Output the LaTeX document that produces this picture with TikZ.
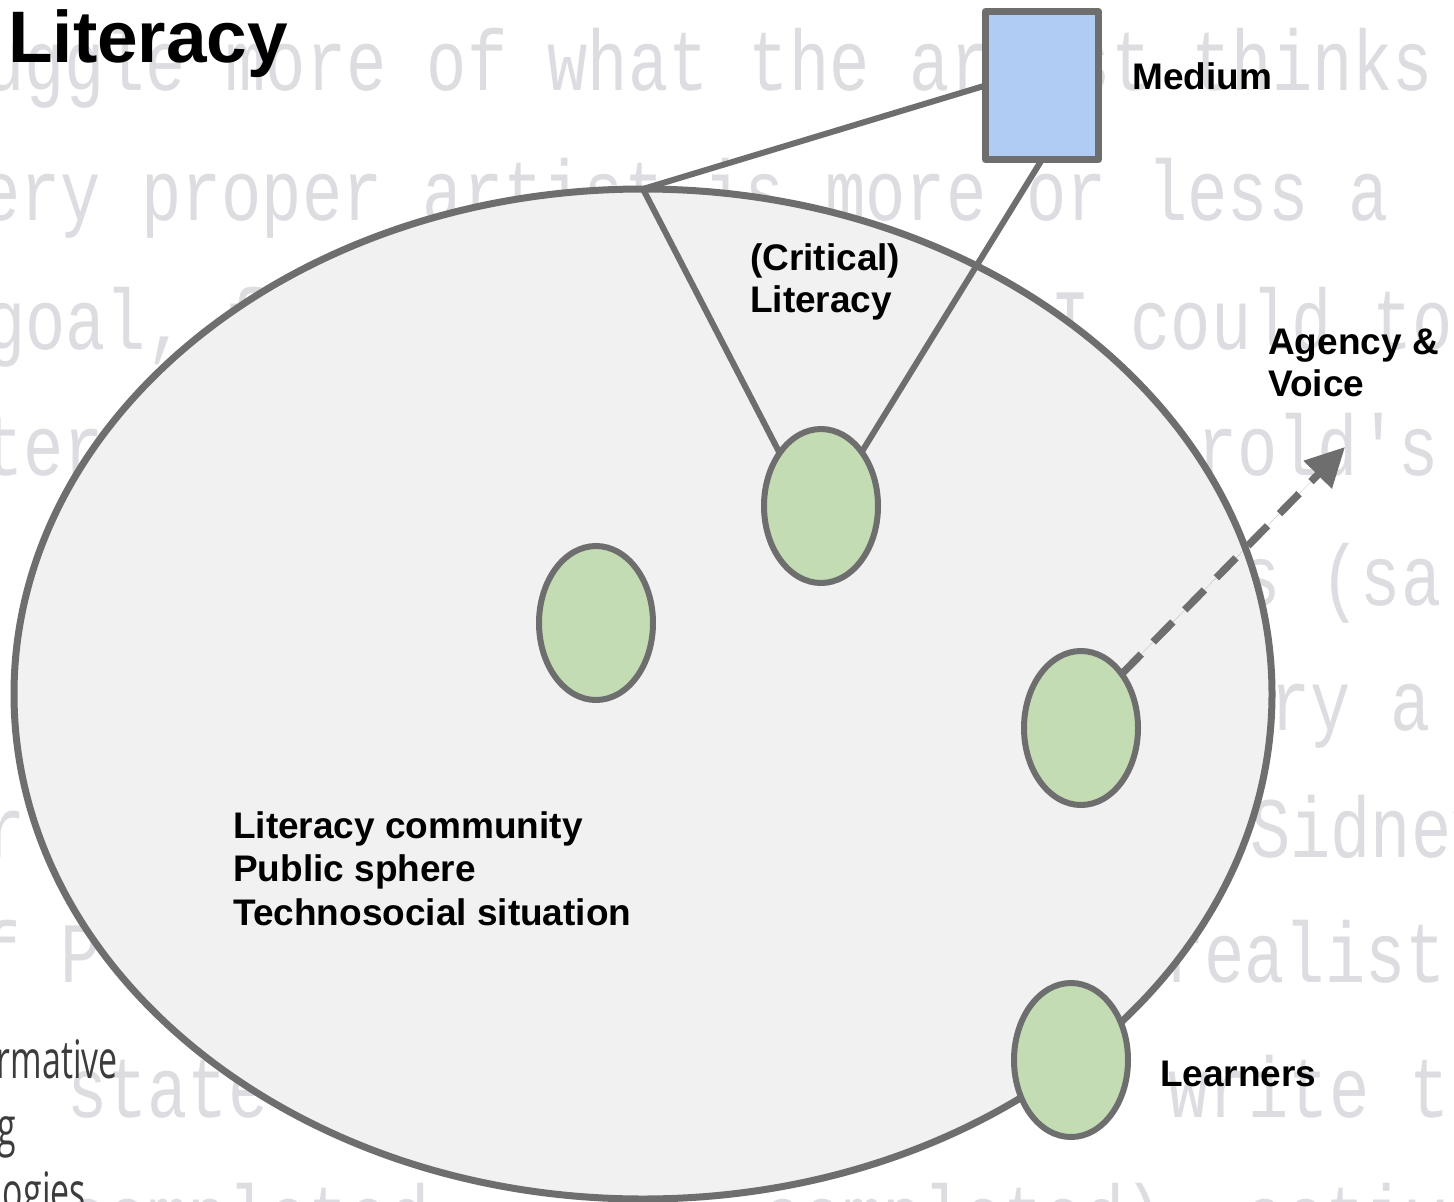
\documentclass[tikz,border=0pt]{standalone}
\usepackage{fontspec}
\setmainfont{Liberation Sans}
\newfontfamily\bgmono[FakeStretch=0.78]{Liberation Mono}
\newfontfamily\condsans[FakeStretch=0.64]{Open Sans}
\usetikzlibrary{shapes.geometric,arrows.meta}
\definecolor{edgegray}{RGB}{110,110,110}
\definecolor{bigfill}{RGB}{241,241,241}
\definecolor{greenfill}{RGB}{196,220,180}
\definecolor{bluefill}{RGB}{176,204,244}
\definecolor{bgtextcol}{RGB}{220,220,225}
\definecolor{darktextcol}{RGB}{60,60,60}
\tikzset{
  bgtext/.style={anchor=base west, inner sep=0, text=bgtextcol, font=\bgmono\fontsize{86}{100}\selectfont},
  darktext/.style={anchor=base east, inner sep=0, text=darktextcol, font=\condsans\fontsize{53}{60}\selectfont},
  bigell/.style={draw=edgegray, fill=bigfill, ellipse, line width=7pt, inner sep=0, outer sep=0, minimum width=1258pt, minimum height=1010pt},
  smallell/.style={draw=edgegray, fill=greenfill, ellipse, line width=6pt, inner sep=0, outer sep=0, minimum width=114pt, minimum height=154pt},
  mediumbox/.style={draw=edgegray, fill=bluefill, rectangle, line width=7pt, line join=round, inner sep=0, outer sep=0, minimum width=113pt, minimum height=148pt},
  conn/.style={draw=edgegray, line width=6pt},
  dasharrow/.style={draw=edgegray, line width=7.5pt, dash pattern=on 28pt off 17pt, -{Triangle[length=39pt,width=38pt]}, fill=edgegray},
  lbl/.style={anchor=base west, inner sep=0, font=\bfseries\fontsize{37}{42}\selectfont},
}
\begin{document}
\begin{tikzpicture}[x=1pt,y=-1pt]
\useasboundingbox (0,0) rectangle (1454,1202);
\clip (0,0) rectangle (1454,1202);
\fill[white] (0,0) rectangle (1454,1202);
% faint background text
\node[bgtext] (b1) at (-16,90) {uggle more of what the artist thinks};
\node[bgtext] (b2) at (-20,220) {ery proper artist is more or less a};
\node[bgtext] (b3a) at (-15,349) {goal, f};
\node[bgtext] (b3b) at (1050,349) {I could to};
\node[bgtext] (b4a) at (-17,475) {ter};
\node[bgtext] (b4b) at (1197,475) {rold's};
\node[bgtext] (b5) at (1240,605) {s (sa};
\node[bgtext] (b6) at (1270,730) {ry a};
\node[bgtext] (b7a) at (-15,857) {r};
\node[bgtext] (b7b) at (1250,857) {Sidney};
\node[bgtext] (b8a) at (-20,982) {f P};
\node[bgtext] (b8b) at (1164,982) {realist};
\node[bgtext] (b9a) at (67,1117) {state};
\node[bgtext] (b9b) at (1168,1117) {write th};
\node[bgtext] (b10a) at (67,1245) {completed};
\node[bgtext] (b10b) at (762,1245) {completed), active};
\node[darktext] (d1) at (118,1078) {rmative};
\node[darktext] (d2) at (16,1145) {g};
\node[darktext] (d3) at (86,1210) {ogies};
% main diagram
\node[bigell] (big) at (643,694) {};
\node[mediumbox] (medium) at (1042,85.5) {};
\node[smallell] (e1) at (821,506) {};
\node[smallell] (e2) at (596,623) {};
\node[smallell] (e3) at (1081,728) {};
\node[smallell] (e4) at (1071,1060) {};
\coordinate (agtip) at (1345,447);
\draw[conn] (big.north) -- (medium.west);
\draw[conn] (big.north) -- (e1.128);
\draw[conn] (medium.south) -- (e1.53);
\draw[dasharrow] (e3.53) -- (agtip);
% labels
\node[anchor=base west, inner sep=0, font=\bfseries\fontsize{73}{80}\selectfont] (title) at (8,62) {Literacy};
\node[lbl] (medlbl) at (1132,89) {Medium};
\node[lbl, align=left] (critlbl) at (750,312) {(Critical)\\Literacy};
\node[lbl, align=left] (aglbl) at (1268,396) {Agency \&\\Voice};
\node[lbl, align=left, font=\bfseries\fontsize{37}{43.5}\selectfont] (commlbl) at (233,925) {Literacy community\\Public sphere\\Technosocial situation};
\node[lbl] (learnlbl) at (1160,1086) {Learners};
\end{tikzpicture}
\end{document}
